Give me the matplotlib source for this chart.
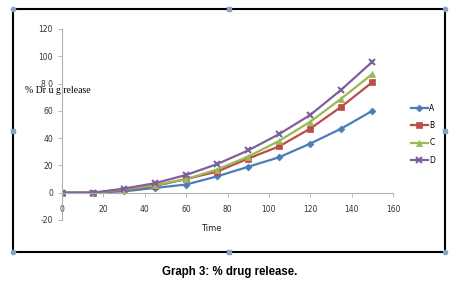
import matplotlib.pyplot as plt
from matplotlib.patches import Rectangle

time = [0, 15, 30, 45, 60, 75, 90, 105, 120, 135, 150]
rel_a = [0, 0, 1, 3.5, 6, 12, 19, 26, 36, 47, 60]
rel_b = [0, 0, 2, 5, 10, 15.5, 25, 34, 47, 63, 81]
rel_c = [0, 0, 2.5, 5.5, 10, 17, 26.5, 38, 52, 69, 87]
rel_d = [0, 0, 3, 7, 13, 21, 31, 43, 57, 75.5, 96]
labels = ["A", "B", "C", "D"]

colors = ["#4a7ebb", "#be4b48", "#98b954", "#7d60a0"]
markers = ["D", "s", "^", "x"]
msizes = [3.5, 4.5, 5, 5]

fig = plt.figure(figsize=(4.65, 2.85), dpi=100)
ax = fig.add_axes([62 / 465, 1 - 220 / 285, 331 / 465, 191 / 285])

for ys, lab, c, m, ms in zip([rel_a, rel_b, rel_c, rel_d], labels, colors, markers, msizes):
    ax.plot(time, ys, color=c, marker=m, markersize=ms, lw=1.6,
            markeredgewidth=1.5 if m == "x" else 0.5, label=lab)

ax.set_xlim(0, 160)
ax.set_ylim(-20, 120)
ax.set_xticks(range(0, 161, 20))
ax.set_yticks(range(-20, 121, 20))
ax.set_yticklabels(["-20", "0", "20", "40", "60", "8 0", "100", "120"])
for s in ["top", "right"]:
    ax.spines[s].set_visible(False)
ax.spines["bottom"].set_position(("data", 0))
ax.spines["bottom"].set_color("#b0b0b0")
ax.spines["left"].set_color("#b0b0b0")
ax.tick_params(colors="#b0b0b0", labelcolor="#333333", labelsize=5.5,
               length=3, width=0.6)
ax.tick_params(axis="x", pad=6)

ax.text(-2, 75, "% Dr u g release", fontsize=7, family="Liberation Serif",
        ha="center", va="center", transform=ax.transData)
ax.text(72, -26, "Time", fontsize=6, ha="center", va="center", color="#222222")

leg = ax.legend(loc="upper left", bbox_to_anchor=(342 / 331, 0.645), frameon=False,
                fontsize=5.5, handlelength=2.2, labelspacing=1.1, handletextpad=0.2)

fig.add_artist(Rectangle((13 / 465, 1 - 252 / 285), 432 / 465, 243 / 285,
                         transform=fig.transFigure, fill=False, ec="black", lw=1.5))
hc = "#8aa0c0"
for x, y in [(13, 9), (445, 9), (13, 252), (445, 252)]:
    fig.add_artist(plt.Line2D([x / 465], [1 - y / 285], marker="o", markersize=3,
                              color=hc, transform=fig.transFigure))
for x, y in [(229, 9), (229, 252), (13, 131), (445, 131)]:
    fig.add_artist(plt.Line2D([x / 465], [1 - y / 285], marker="s", markersize=3,
                              color=hc, transform=fig.transFigure))

fig.text(230 / 465, 1 - 272 / 285, "Graph 3: % drug release.", ha="center",
         va="center", fontsize=8.3, fontweight="bold", family="Liberation Sans")

fig.savefig("out.png", dpi=100)
